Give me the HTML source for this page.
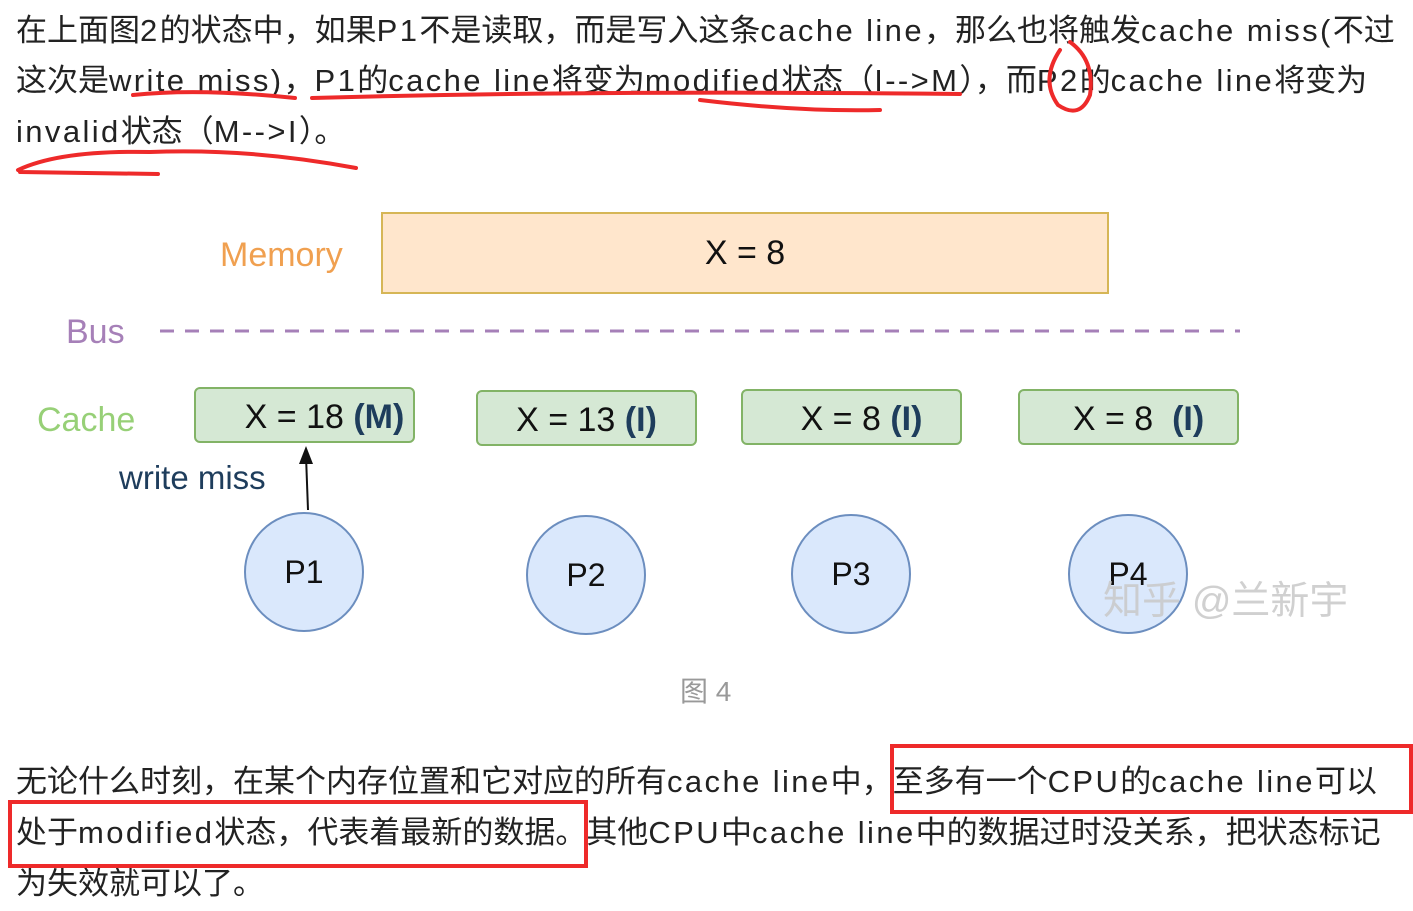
<!DOCTYPE html>
<html><head><meta charset="utf-8">
<style>
body{margin:0;width:1413px;height:911px;background:#fff;position:relative;overflow:hidden;font-family:"Liberation Sans","Noto Sans CJK SC",sans-serif;}
.t{position:absolute;left:16px;font-size:31px;color:#222;white-space:nowrap;line-height:40px;}
.t i{font-style:normal;letter-spacing:2.4px}
.d{position:absolute;font-family:"Liberation Sans",sans-serif;white-space:nowrap;}
.box{position:absolute;background:#d5e8d4;border:2px solid #82b366;border-radius:6px;font-size:34px;color:#111;text-align:center;line-height:56px;height:56px;box-sizing:border-box;}
.box b{color:#1e3d5c}
.c{position:absolute;width:120px;height:120px;border-radius:50%;background:#dae8fc;border:2px solid #6c8ebf;box-sizing:border-box;font-size:32px;text-align:center;line-height:116px;color:#111;}
.red{position:absolute;border:4px solid #ee2a2a;}
</style></head><body>
<div class="t" style="top:11px">在上面图<i>2</i>的状态中，如果<i>P1</i>不是读取，而是写入这条<i>cache line</i>，那么也将触发<i>cache miss(</i>不过</div>
<div class="t" style="top:61px">这次是<i>write miss)</i>，<i>P1</i>的<i>cache line</i>将变为<i>modified</i>状态（<i>I--&gt;M</i>），而<i>P2</i>的<i>cache line</i>将变为</div>
<div class="t" style="top:112px"><i>invalid</i>状态（<i>M--&gt;I</i>）。</div>
<svg style="position:absolute;left:0;top:0" width="1413" height="911">
<g fill="none" stroke="#ee2a2a" stroke-width="4" stroke-linecap="round">
<path d="M133 95 Q200 88 295 98"/>
<path d="M312 98 Q600 90 960 94 M700 100 Q800 112 880 110"/>
<path d="M1060 50 Q1040 80 1058 105 Q1080 120 1090 95 Q1095 60 1070 42"/>
<path d="M18 170 Q60 150 150 152 Q250 148 356 168 M20 172 L158 174"/>
</g>
<line x1="160" y1="331" x2="1240" y2="331" stroke="#a680b8" stroke-width="3" stroke-dasharray="14,11"/>
<line x1="308" y1="510" x2="306" y2="456" stroke="#111" stroke-width="2"/>
<polygon points="306,446 299,464 313,464" fill="#111"/>
</svg>
<div class="d" style="left:220px;top:236px;font-size:34px;color:#f0a050">Memory</div>
<div style="position:absolute;left:381px;top:212px;width:728px;height:82px;background:#ffe6cc;border:2px solid #d6b656;box-sizing:border-box;font-size:34px;text-align:center;line-height:78px;font-family:'Liberation Sans';color:#111">X = 8</div>
<div class="d" style="left:66px;top:313px;font-size:34px;color:#a680b8">Bus</div>
<div class="d" style="left:37px;top:401px;font-size:34px;color:#97d077">Cache</div>
<div class="box" style="left:194px;top:387px;width:221px;padding-left:40px">X = 18 <b>(M)</b></div>
<div class="box" style="left:476px;top:390px;width:221px">X = 13 <b>(I)</b></div>
<div class="box" style="left:741px;top:389px;width:221px;padding-left:20px">X = 8 <b>(I)</b></div>
<div class="box" style="left:1018px;top:389px;width:221px;padding-left:20px">X = 8 &nbsp;<b>(I)</b></div>
<div class="d" style="left:119px;top:459px;font-size:33px;color:#1e3d5c">write miss</div>
<div class="c" style="left:244px;top:512px">P1</div>
<div class="c" style="left:526px;top:515px">P2</div>
<div class="c" style="left:791px;top:514px">P3</div>
<div class="c" style="left:1068px;top:514px">P4</div>
<div class="d" style="left:1103px;top:570px;font-size:39px;color:rgba(200,200,200,0.85);font-family:'Liberation Sans','Noto Sans CJK SC',sans-serif">知乎 @兰新宇</div>
<div class="d" style="left:680px;top:670px;font-size:28px;color:#999;font-family:'Liberation Sans','Noto Sans CJK SC',sans-serif">图 4</div>
<div class="t" style="top:762px">无论什么时刻，在某个内存位置和它对应的所有<i>cache line</i>中，至多有一个<i>CPU</i>的<i>cache line</i>可以</div>
<div class="t" style="top:813px">处于<i>modified</i>状态，代表着最新的数据。其他<i>CPU</i>中<i>cache line</i>中的数据过时没关系，把状态标记</div>
<div class="t" style="top:864px">为失效就可以了。</div>
<div class="red" style="left:890px;top:744px;width:515px;height:62px"></div>
<div class="red" style="left:8px;top:800px;width:572px;height:60px"></div>
</body></html>
